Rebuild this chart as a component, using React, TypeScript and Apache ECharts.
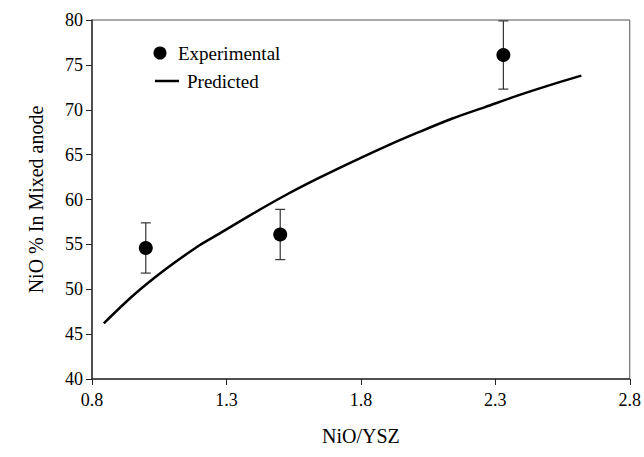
import React, { useEffect, useRef } from "react";
import * as echarts from "echarts";

const expX = [1.0, 1.5, 2.33];
const expY = [54.6, 56.1, 76.1];
const expErr = [2.8, 2.8, 3.8];

const predX = [0.844, 0.953, 1.077, 1.2, 1.274, 1.397, 1.521, 1.644, 1.768, 1.891, 2.015, 2.138, 2.262, 2.385, 2.509, 2.62];
const predY = [46.2, 49.3, 52.3, 54.9, 56.2, 58.4, 60.5, 62.4, 64.2, 65.9, 67.5, 69.0, 70.3, 71.6, 72.8, 73.8];

const xTicks = [0.8, 1.3, 1.8, 2.3, 2.8];
const yTicks = [40, 45, 50, 55, 60, 65, 70, 75, 80];

const FONT = "Liberation Serif";

export default function App() {
  const ref = useRef<HTMLDivElement>(null);
  useEffect(() => {
    if (!ref.current) return;
    const chart = echarts.init(ref.current, undefined, { renderer: "svg" });
    const expData = expX.map((x, i) => [x, expY[i]]);
    const errData = expX.map((x, i) => [x, expY[i] - expErr[i], expY[i] + expErr[i]]);
    const predData = predX.map((x, i) => [x, predY[i]]);
    chart.setOption({
      animation: false,
      backgroundColor: "#ffffff",
      textStyle: { fontFamily: FONT, fontSize: 18, color: "#000" },
      grid: {
        left: 92,
        right: 12,
        top: 20,
        bottom: 78,
        show: true,
        borderColor: "#555",
        borderWidth: 1,
        backgroundColor: "transparent",
      },
      xAxis: [
        {
          type: "value",
          min: xTicks[0],
          max: xTicks[xTicks.length - 1],
          interval: 0.5,
          name: "NiO/YSZ",
          nameLocation: "middle",
          nameGap: 47,
          nameTextStyle: { fontFamily: FONT, fontSize: 20, color: "#000" },
          axisLine: { show: true, lineStyle: { color: "#333", width: 1.5 } },
          axisTick: { show: true, inside: false, length: 6, lineStyle: { color: "#222" } },
          axisLabel: {
            show: true,
            fontFamily: FONT,
            fontSize: 18,
            color: "#000",
            margin: 12,
            formatter: (v: number) => v.toFixed(1),
          },
          splitLine: { show: false },
        },
      ],
      yAxis: [
        {
          type: "value",
          min: yTicks[0],
          max: yTicks[yTicks.length - 1],
          interval: 5,
          name: "NiO % In Mixed anode",
          nameLocation: "middle",
          nameGap: 46,
          nameTextStyle: { fontFamily: FONT, fontSize: 20, color: "#000" },
          axisLine: { show: true, lineStyle: { color: "#333", width: 1.5 } },
          axisTick: { show: true, inside: false, length: 6, lineStyle: { color: "#222" } },
          axisLabel: { show: true, fontFamily: FONT, fontSize: 18, color: "#000", margin: 9 },
          splitLine: { show: false },
        },
      ],
      graphic: [
        { type: "circle", shape: { cx: 160, cy: 53, r: 6.5 }, style: { fill: "#000" } },
        {
          type: "text",
          x: 178,
          y: 53,
          style: { text: "Experimental", fontFamily: FONT, fontSize: 19, fill: "#000", verticalAlign: "middle" },
        },
        { type: "line", shape: { x1: 155, y1: 81, x2: 179, y2: 81 }, style: { stroke: "#000", lineWidth: 2.5 } },
        {
          type: "text",
          x: 187,
          y: 81,
          style: { text: "Predicted", fontFamily: FONT, fontSize: 19, fill: "#000", verticalAlign: "middle" },
        },
      ],
      series: [
        {
          name: "Predicted",
          type: "line",
          data: predData,
          showSymbol: false,
          smooth: 0.3,
          lineStyle: { color: "#000", width: 2.5 },
          z: 2,
        },
        {
          name: "Error",
          type: "custom",
          data: errData,
          renderItem: (params: any, api: any) => {
            const x = api.value(0);
            const lo = api.coord([x, api.value(1)]);
            const hi = api.coord([x, api.value(2)]);
            const hw = 5;
            const st = { stroke: "#333", lineWidth: 1.2 };
            return {
              type: "group",
              children: [
                { type: "line", shape: { x1: lo[0], y1: lo[1], x2: hi[0], y2: hi[1] }, style: st },
                { type: "line", shape: { x1: lo[0] - hw, y1: lo[1], x2: lo[0] + hw, y2: lo[1] }, style: st },
                { type: "line", shape: { x1: hi[0] - hw, y1: hi[1], x2: hi[0] + hw, y2: hi[1] }, style: st },
              ],
            };
          },
          z: 3,
        },
        {
          name: "Experimental",
          type: "scatter",
          data: expData,
          symbol: "circle",
          symbolSize: 14,
          itemStyle: { color: "#000", opacity: 1 },
          z: 4,
        },
      ],
    });
    return () => chart.dispose();
  }, []);
  return <div ref={ref} style={{ width: 644, height: 457, position: "absolute", left: 0, top: 0 }} />;
}
